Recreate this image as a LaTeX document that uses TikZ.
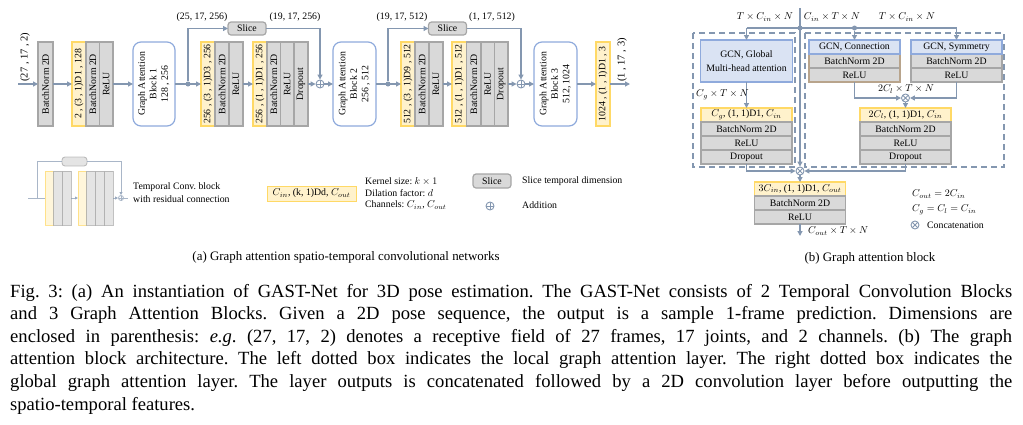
\documentclass[tikz,border=0pt]{standalone}
\usepackage{fontspec}
\setmainfont{Liberation Serif}
\usepackage{graphicx}
\usetikzlibrary{arrows.meta,calc}
\frenchspacing
\definecolor{lineblue}{HTML}{8497B0}
\definecolor{gabborder}{HTML}{8FAADC}
\definecolor{gcnfill}{HTML}{DAE3F3}
\definecolor{grayfill}{HTML}{D9D9D9}
\definecolor{grayborder}{HTML}{A6A6A6}
\definecolor{yfill}{HTML}{FFF2CC}
\definecolor{yborder}{HTML}{FFD966}
\definecolor{tanborder}{HTML}{B8A48C}
\newcommand{\vtext}[1]{\rotatebox{90}{#1}}
\newcommand{\vtab}[1]{\rotatebox{90}{\begin{tabular}{@{}c@{}}#1\end{tabular}}}
\tikzset{
  box/.style={draw, line width=1.2pt, inner sep=0pt, outer sep=0pt},
  gbox/.style={box, fill=grayfill, draw=grayborder},
  ybox/.style={box, fill=yfill, draw=yborder},
  mr/.style={minimum height=84pt},
  gab/.style={box, draw=gabborder, fill=white, rounded corners=8pt, minimum height=84pt},
  arr/.style={draw=lineblue, line width=1.3pt, -{Triangle[length=5pt,width=5pt]}},
  ln/.style={draw=lineblue, line width=1.3pt},
  junction/.style={circle, fill=lineblue, inner sep=0pt, minimum size=5pt},
  oplus/.style={circle, draw=lineblue, line width=0.9pt, fill=white, inner sep=0pt, minimum size=8pt,
    path picture={\draw[lineblue, line width=0.8pt] (path picture bounding box.north) -- (path picture bounding box.south) (path picture bounding box.west) -- (path picture bounding box.east);}},
  otimes/.style={circle, draw=lineblue, line width=0.9pt, fill=white, inner sep=0pt, minimum size=8pt,
    path picture={\draw[lineblue, line width=0.8pt] (path picture bounding box.north west) -- (path picture bounding box.south east) (path picture bounding box.south west) -- (path picture bounding box.north east);}},
  slicebox/.style={box, fill=grayfill, draw=grayborder, rounded corners=3pt, minimum width=38pt, minimum height=13pt},
  dashbox/.style={draw=lineblue, line width=1.1pt, dash pattern=on 6pt off 4pt},
  hb/.style={minimum width=91pt, minimum height=14pt},
  lab/.style={inner sep=0pt},
}
\begin{document}
\begin{tikzpicture}[x=1pt,y=-1pt, font=\fontsize{9.8}{11.5}\selectfont]
\useasboundingbox (0,0) rectangle (1023,424);
% ================= (a) main row =================
\coordinate (in) at (18,84);
\node[gbox,mr,minimum width=15pt] (bn0) at (45.5,84) {\vtext{BatchNorm 2D}};
\node[ybox,mr,minimum width=14pt] (y1) at (79,84) {\vtext{2 , (3 , 1)D1 , 128}};
\node[gbox,mr,minimum width=13.5pt] (bn1) at (92.75,84) {\vtext{BatchNorm 2D}};
\node[gbox,mr,minimum width=13.5pt] (r1) at (106.25,84) {\vtext{ReLU}};
\node[gab,minimum width=42pt] (gab1) at (154,84) {\vtab{Graph Attention\\Block 1\\128 , 256}};
\node[ybox,mr,minimum width=14pt] (y2) at (208,84) {\vtext{256 , (3 , 1)D3 , 256}};
\node[gbox,mr,minimum width=14pt] (bn2) at (222,84) {\vtext{BatchNorm 2D}};
\node[gbox,mr,minimum width=14pt] (r2) at (236,84) {\vtext{ReLU}};
\node[ybox,mr,minimum width=14pt] (y3) at (260,84) {\vtext{256 , (1 , 1)D1 , 256}};
\node[gbox,mr,minimum width=13.5pt] (bn3) at (273.75,84) {\vtext{BatchNorm 2D}};
\node[gbox,mr,minimum width=13.5pt] (r3) at (287.25,84) {\vtext{ReLU}};
\node[gbox,mr,minimum width=14pt] (d3) at (301,84) {\vtext{Dropout}};
\node[oplus] (p1) at (320,84) {};
\node[gab,minimum width=43pt] (gab2) at (354.5,84) {\vtab{Graph Attention\\Block 2\\256 , 512}};
\node[ybox,mr,minimum width=14pt] (y4) at (408,84) {\vtext{512 , (3 , 1)D9 , 512}};
\node[gbox,mr,minimum width=14pt] (bn4) at (422,84) {\vtext{BatchNorm 2D}};
\node[gbox,mr,minimum width=14pt] (r4) at (436,84) {\vtext{ReLU}};
\node[ybox,mr,minimum width=14.5pt] (y5) at (459.25,84) {\vtext{512 , (1 , 1)D1 , 512}};
\node[gbox,mr,minimum width=14.5pt] (bn5) at (473.75,84) {\vtext{BatchNorm 2D}};
\node[gbox,mr,minimum width=13.5pt] (r5) at (487.75,84) {\vtext{ReLU}};
\node[gbox,mr,minimum width=13.5pt] (d5) at (501.25,84) {\vtext{Dropout}};
\node[oplus] (p2) at (521,84) {};
\node[gab,minimum width=43pt] (gab3) at (555.5,84) {\vtab{Graph Attention\\Block 3\\512, 1024}};
\node[ybox,mr,minimum width=14pt] (y6) at (603,84) {\vtext{1024 , (1 , 1)D1 , 3}};
\coordinate (out) at (630,84);
\node[slicebox] (s1) at (247,28.5) {Slice};
\node[slicebox] (s2) at (447.5,28.5) {Slice};
% arrows
\draw[arr] (in) -- (bn0);
\draw[arr] (bn0) -- (y1);
\draw[arr] (r1) -- (gab1);
\draw[arr] (gab1) -- (y2);
\draw[arr] (r2) -- (y3);
\draw[arr] (d3) -- (p1);
\draw[arr] (p1) -- (gab2);
\draw[arr] (gab2) -- (y4);
\draw[arr] (r4) -- (y5);
\draw[arr] (d5) -- (p2);
\draw[arr] (p2) -- (gab3);
\draw[arr] (gab3) -- (y6);
\draw[arr] (y6) -- (out);
\node[junction] (j1) at (188,84) {};
\node[junction] (j2) at (388,84) {};
\draw[arr] (j1) |- (s1);
\draw[arr] (s1) -| (p1);
\draw[arr] (j2) |- (s2);
\draw[arr] (s2) -| (p2);
% labels
\node[lab,rotate=90,font=\fontsize{10.5}{12}\selectfont] (lin) at (25,57) {(27 , 17 , 2)};
\node[lab,rotate=90,font=\fontsize{10.5}{12}\selectfont] (lout) at (622,60) {(1 , 17 , 3)};
\node[lab] (l1) at (202,17) {(25, 17, 256)};
\node[lab] (l2) at (295,17) {(19, 17, 256)};
\node[lab] (l3) at (402,17) {(19, 17, 512)};
\node[lab] (l4) at (492,17) {(1, 17, 512)};
% ================= (a) legend =================
\begin{scope}[opacity=0.7]
\node[ybox, line width=0.9pt, minimum width=8pt, minimum height=54pt] (ly1) at (49,198) {};
\node[gbox, line width=0.9pt, minimum width=9pt, minimum height=54pt] (lg1) at (57.5,198) {};
\node[gbox, line width=0.9pt, minimum width=9pt, minimum height=54pt] (lg2) at (66.5,198) {};
\node[ybox, line width=0.9pt, minimum width=8pt, minimum height=54pt] (ly2) at (82,198) {};
\node[gbox, line width=0.9pt, minimum width=9pt, minimum height=54pt] (lg3) at (90.5,198) {};
\node[gbox, line width=0.9pt, minimum width=9pt, minimum height=54pt] (lg4) at (99.5,198) {};
\node[gbox, line width=0.9pt, minimum width=9pt, minimum height=54pt] (lg5) at (108.5,198) {};
\node[slicebox, line width=0.9pt, minimum width=25pt, minimum height=9pt] (ls) at (74.5,161.5) {};
\node[oplus, minimum size=5pt, line width=0.8pt] (lp) at (121,198) {};
\coordinate (lin0) at (28,198);
\coordinate (lsplit) at (37,198);
\coordinate (lend) at (128,198);
\draw[ln, line width=1pt] (lin0) -- (ly1);
\draw[ln, line width=1pt, -{Triangle[length=3pt,width=3pt]}] (lg2) -- (ly2);
\draw[ln, line width=1pt, -{Triangle[length=3pt,width=3pt]}] (lg5) -- (lp);
\draw[ln, line width=1pt] (lp) -- (lend);
\draw[ln, line width=1pt] (lsplit) |- (ls);
\draw[ln, line width=1pt, -{Triangle[length=3pt,width=3pt]}] (ls) -| (lp);
\end{scope}
\node[lab, anchor=west] (tc1) at (133,187) {Temporal Conv. block};
\node[lab, anchor=west] (tc2) at (133,199) {with residual connection};
\node[ybox, line width=1pt, minimum width=89pt, minimum height=15pt] (ly) at (311.5,193.5) {$C_{in}$, (k, 1)Dd, $C_{out}$};
\node[lab, anchor=west] (k1) at (365,181) {Kernel size: $k\times 1$};
\node[lab, anchor=west] (k2) at (365,193) {Dilation factor: $d$};
\node[lab, anchor=west] (k3) at (365,205) {Channels: $C_{in}$, $C_{out}$};
\node[slicebox, minimum height=14pt] (lsl) at (492,181) {Slice};
\node[lab, anchor=west] (k4) at (522,181) {Slice temporal dimension};
\node[oplus] (lpl) at (490,206) {};
\node[lab, anchor=west] (k5) at (522,205) {Addition};
\node[lab, font=\fontsize{12.9}{15}\selectfont] (capa) at (346,257) {(a) Graph attention spatio-temporal convolutional networks};
% ================= (b) graph attention block =================
\draw[dashbox] (693,33) rectangle (795,167);
\draw[dashbox] (805,33) rectangle (1004,167);
\node[lab] (t1) at (765,17) {$T\times C_{in}\times N$};
\node[lab] (t2) at (832,17) {$C_{in}\times T\times N$};
\node[lab] (t3) at (907,17) {$T\times C_{in}\times N$};
% left branch
\node[box, fill=gcnfill, draw=gabborder, minimum width=92pt, minimum height=42pt, align=center] (gcng) at (746.5,61) {GCN, Global\\[3pt]Multi-head attention};
\node[ybox, hb] (lyb) at (746.5,115) {$C_g$, (1, 1)D1, $C_{in}$};
\node[gbox, hb] (lbn) at (746.5,129) {BatchNorm 2D};
\node[gbox, hb] (lrelu) at (746.5,143) {ReLU};
\node[gbox, hb] (ldrop) at (746.5,157) {Dropout};
% right branch
\node[gbox, hb] (cbn) at (854.5,61) {BatchNorm 2D};
\node[gbox, hb] (crelu) at (854.5,75) {ReLU};
\draw[tanborder, line width=1.2pt] (809,40) rectangle (900,82);
\node[box, hb, fill=gcnfill, draw=gabborder] (cb) at (854.5,47) {GCN, Connection};
\node[gbox, hb] (sbn) at (956.5,61) {BatchNorm 2D};
\node[gbox, hb] (srelu) at (956.5,75) {ReLU};
\node[box, hb, fill=gcnfill, draw=gabborder] (sb) at (956.5,47) {GCN, Symmetry};
\node[otimes] (ot1) at (905.5,98) {};
\node[ybox, hb] (ryb) at (905.5,115) {$2C_l$, (1, 1)D1, $C_{in}$};
\node[gbox, hb] (rbn) at (905.5,129) {BatchNorm 2D};
\node[gbox, hb] (rrelu) at (905.5,143) {ReLU};
\node[gbox, hb] (rdrop) at (905.5,157) {Dropout};
% merge
\node[otimes] (ot2) at (800,171) {};
\node[ybox, hb] (fyb) at (800,189) {$3C_{in}$, (1, 1)D1, $C_{out}$};
\node[gbox, hb] (fbn) at (800,203) {BatchNorm 2D};
\node[gbox, hb] (frelu) at (800,217) {ReLU};
\coordinate (fout) at (800,236);
% connectors
\coordinate (intop) at (800,8);
\coordinate (jl) at (746.5,28);
\coordinate (jr) at (956.5,28);
\draw[arr] (intop) -- (ot2);
\draw[ln] (jl) -- (jr);
\node[junction] (jin) at (800,28) {};
\node[junction] (jc) at (854.5,28) {};
\draw[arr] (jl) -- (gcng);
\draw[arr] (jc) -- (cb);
\draw[arr] (jr) -- (sb);
\draw[arr] (gcng) -- (lyb);
\draw[arr] (crelu) |- (ot1);
\draw[arr] (srelu) |- (ot1);
\draw[arr] (ot1) -- (ryb);
\draw[arr] (ldrop) |- (ot2);
\draw[arr] (rdrop) |- (ot2);
\draw[arr] (ot2) -- (fyb);
\draw[arr] (frelu) -- (fout);
\node[lab, anchor=west] (tg) at (696,95) {$C_g\times T\times N$};
\node[lab] (tl) at (906,89) {$2C_l\times T\times N$};
\node[lab, anchor=west] (to) at (808,231) {$C_{out}\times T\times N$};
\node[lab, anchor=west] (e1) at (912,194) {$C_{out} = 2C_{in}$};
\node[lab, anchor=west] (e2) at (912,210) {$C_g = C_l = C_{in}$};
\node[otimes] (lot) at (915,225) {};
\node[lab, anchor=west] (e3) at (927,225) {Concatenation};
\node[lab, font=\fontsize{12.9}{15}\selectfont] (capb) at (870,258) {(b) Graph attention block};
% ================= caption =================
\begin{scope}[font=\fontsize{18.6}{22.65}\selectfont]
\node[lab, anchor=base west] (c1) at (10,297) {\makebox[1002pt][s]{Fig. 3: (a) An instantiation of GAST-Net for 3D pose estimation. The GAST-Net consists of 2 Temporal Convolution Blocks}};
\node[lab, anchor=base west] (c2) at (10,319.65) {\makebox[1002pt][s]{and 3 Graph Attention Blocks. Given a 2D pose sequence, the output is a sample 1-frame prediction. Dimensions are}};
\node[lab, anchor=base west] (c3) at (10,342.3) {\makebox[1002pt][s]{enclosed in parenthesis: \textit{e.g}. (27, 17, 2) denotes a receptive field of 27 frames, 17 joints, and 2 channels. (b) The graph}};
\node[lab, anchor=base west] (c4) at (10,364.95) {\makebox[1002pt][s]{attention block architecture. The left dotted box indicates the local graph attention layer. The right dotted box indicates the}};
\node[lab, anchor=base west] (c5) at (10,387.6) {\makebox[1002pt][s]{global graph attention layer. The layer outputs is concatenated followed by a 2D convolution layer before outputting the}};
\node[lab, anchor=base west] (c6) at (10,410.25) {spatio-temporal features.};
\end{scope}
\end{tikzpicture}
\end{document}
